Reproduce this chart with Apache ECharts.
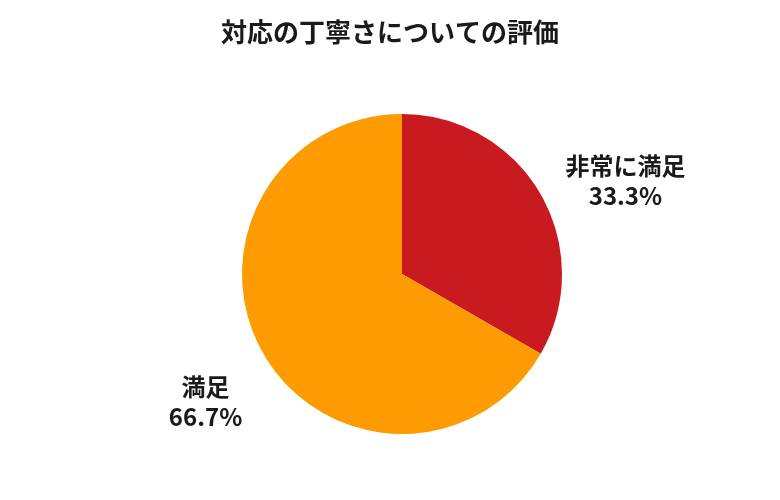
<!DOCTYPE html>
<html>
<head>
<meta charset="utf-8">
<script src="https://cdn.jsdelivr.net/npm/echarts@6/dist/echarts.min.js"></script>
<style>html,body{margin:0;padding:0;background:#fff}#c{width:780px;height:500px}</style>
</head>
<body>
<div id="c"></div>
<script>
const titleText = '対応の丁寧さについての評価';
const categories = ['非常に満足', '満足'];
const values = [33.3, 66.7];
const colors = ['#C91A1F', '#FD9B00'];
const labelShift = [[54, 2], [-27, 33]];

const chart = echarts.init(document.getElementById('c'));
chart.setOption({
  backgroundColor: '#fff',
  animation: false,
  title: {
    text: titleText,
    left: 'center',
    top: 14,
    textStyle: { fontFamily: 'Noto Sans CJK JP', fontWeight: 'bold', fontSize: 26, color: '#1a1a1a' }
  },
  series: [{
    type: 'pie',
    center: [402, 274],
    radius: 160,
    startAngle: 90,
    clockwise: true,
    avoidLabelOverlap: false,
    data: categories.map((c, i) => ({ name: c, value: values[i], itemStyle: { color: colors[i] } })),
    label: {
      show: true,
      position: 'outside',
      formatter: p => p.name + '\n' + p.value.toFixed(1) + '%',
      fontFamily: 'Noto Sans CJK JP',
      fontWeight: 'bold',
      fontSize: 24,
      lineHeight: 30,
      color: '#1a1a1a'
    },
    labelLine: { show: false, length: 30, length2: 0 },
    labelLayout: p => ({ align: 'center', dx: labelShift[p.dataIndex][0], dy: labelShift[p.dataIndex][1] })
  }]
});
</script>
</body>
</html>
